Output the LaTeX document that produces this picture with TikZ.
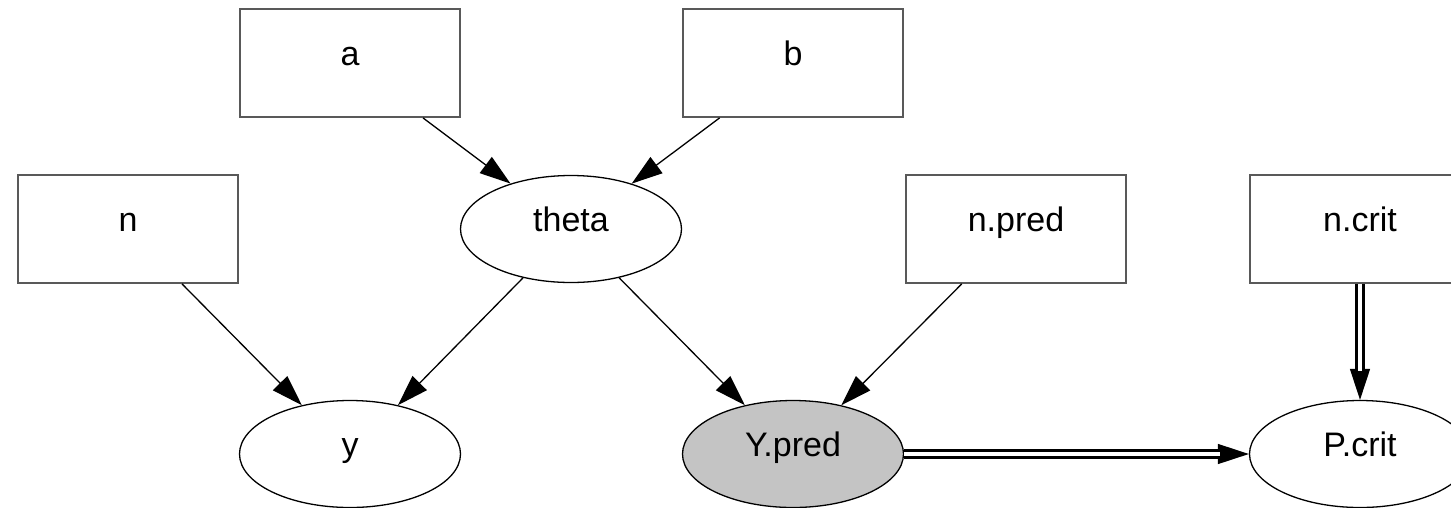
\documentclass[tikz,border=0pt]{standalone}
\usepackage{fontspec}
\setmainfont{Liberation Sans}
\usetikzlibrary{shapes.geometric,arrows.meta}
\begin{document}
\begin{tikzpicture}[x=1pt,y=-1pt,
  every node/.style={font=\fontsize{34}{40}\selectfont, inner sep=0pt, text height=24pt, text depth=20pt},
  boxnode/.style={draw=black!65, line width=1.8pt, rectangle, minimum width=220pt, minimum height=108pt},
  ovalnode/.style={draw=black, line width=1.3pt, ellipse, minimum width=221pt, minimum height=107pt},
  edge/.style={line width=1.3pt, -{Triangle[length=31pt,width=20pt]}},
  dbl/.style={double=white, line width=2.8pt, double distance=3.6pt}
]
\useasboundingbox (0,0) rectangle (1451,507);
\clip (0,0) rectangle (1451,507);
\node[boxnode] (a) at (350,63) {a};
\node[boxnode] (b) at (793,63) {b};
\node[boxnode] (n) at (128,229) {n};
\node[ovalnode] (theta) at (571,229) {theta};
\node[boxnode] (npred) at (1016,229) {n.pred};
\node[boxnode] (ncrit) at (1360,229) {n.crit};
\node[ovalnode] (y) at (350,454) {y};
\node[ovalnode, fill=black!23] (Ypred) at (793,454) {Y.pred};
\node[ovalnode] (Pcrit) at (1360,454) {P.crit};
\draw[edge] (a) -- (theta);
\draw[edge] (b) -- (theta);
\draw[edge] (n) -- (y);
\draw[edge] (theta) -- (y);
\draw[edge] (theta) -- (Ypred);
\draw[edge] (npred) -- (Ypred);
\draw[edge] (Ypred) -- (Pcrit);
\draw[dbl, shorten >=29pt] (Ypred) -- (Pcrit);
\draw[edge] (ncrit) -- (Pcrit);
\draw[dbl, shorten >=29pt] (ncrit) -- (Pcrit);
\end{tikzpicture}
\end{document}
